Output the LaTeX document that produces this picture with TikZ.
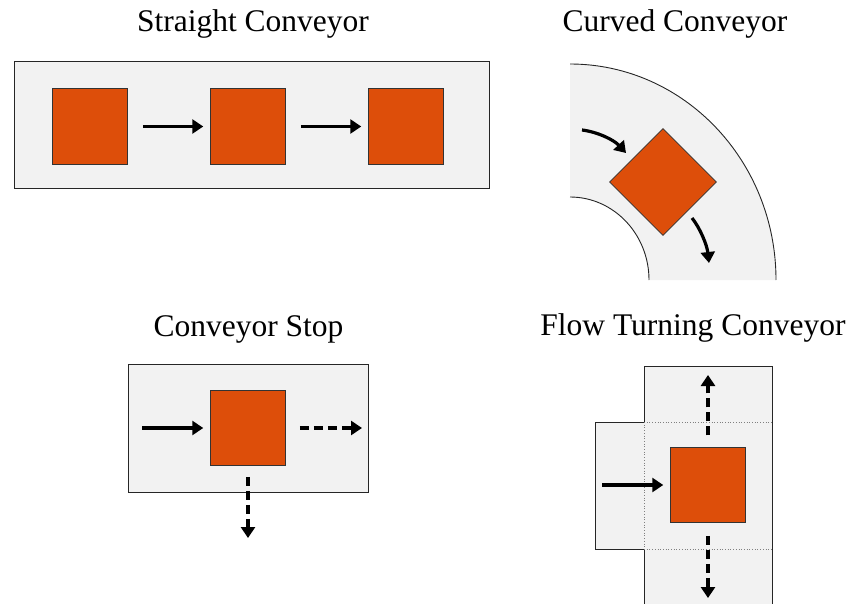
\documentclass[tikz,border=0pt]{standalone}
\usepackage{fontspec}
\setmainfont{Liberation Serif}
\usetikzlibrary{arrows.meta}
\definecolor{belt}{HTML}{F2F2F2}
\definecolor{item}{HTML}{DD4E0A}
\tikzset{
  beltbox/.style={draw=black!85, fill=belt, line width=0.9pt},
  itembox/.style={draw=black!80, fill=item, line width=0.8pt, minimum size=75.5pt, inner sep=0pt, outer sep=0pt},
  arr/.style={line width=3.2pt, -{Triangle[length=11pt,width=14pt]}},
  darr/.style={arr, dash pattern=on 9pt off 5pt},
  ttl/.style={font=\fontsize{31.5}{36}\selectfont, anchor=base},
  sep/.style={draw=black!50, line width=0.7pt, dotted}
}
\begin{document}
\begin{tikzpicture}[x=1pt,y=-1pt]
\useasboundingbox (0,0) rectangle (851,604);
% ---------- Straight conveyor
\node[ttl] (t1) at (253,32) {Straight Conveyor};
\path[beltbox] (14,61) rectangle (489,188);
\node[itembox] (s1) at (90,126.5) {};
\node[itembox] (s2) at (248,126.5) {};
\node[itembox] (s3) at (406,126.5) {};
\draw[arr] ([xshift=15pt]s1.east) -- ([xshift=-7pt]s2.west);
\draw[arr] ([xshift=15pt]s2.east) -- ([xshift=-7pt]s3.west);
% ---------- Curved conveyor
\node[ttl] (t2) at (675,32) {Curved Conveyor};
\fill[belt] (570,64) arc[start angle=270,end angle=360,x radius=206,y radius=216]
  -- (649,280) arc[start angle=360,end angle=270,x radius=79,y radius=83] -- cycle;
\draw[black!85, line width=0.9pt] (570,64) arc[start angle=270,end angle=360,x radius=206,y radius=216];
\draw[black!85, line width=0.9pt] (649,280) arc[start angle=360,end angle=270,x radius=79,y radius=83];
\node[itembox, rotate=45] (c1) at (663,182) {};
\coordinate (ca1) at (582,130);
\coordinate (ca2) at (626,153);
\coordinate (cb1) at (692,218);
\coordinate (cb2) at (709,263);
\draw[arr] (ca1) .. controls (598,132) and (614,140) .. (ca2);
\draw[arr] (cb1) .. controls (700,228) and (707,245) .. (cb2);
% ---------- Conveyor stop
\node[ttl] (t3) at (248.5,336) {Conveyor Stop};
\path[beltbox] (128,364) rectangle (368,492);
\node[itembox] (p1) at (248,428) {};
\coordinate (pin) at (142,428);
\coordinate (pout) at (362,428);
\coordinate (pdown) at (248,538);
\draw[arr] (pin) -- ([xshift=-7pt]p1.west);
\draw[darr] ([xshift=14pt]p1.east) -- (pout);
\draw[darr] ([yshift=-11pt]p1.south) -- (pdown);
% ---------- Flow turning conveyor
\node[ttl] (t4) at (693,335) {Flow Turning Conveyor};
\fill[belt] (644,366) rectangle (772,604);
\fill[belt] (595,422) rectangle (644,549);
\draw[black!85, line width=0.9pt] (644,604) -- (644,549);
\draw[black!85, line width=0.9pt] (644,422) -- (644,366) -- (772,366) -- (772,604);
\draw[black!85, line width=0.9pt] (644,422) -- (595,422) -- (595,549) -- (644,549);
\draw[sep] (644,422) -- (772,422);
\draw[sep] (644,549) -- (772,549);
\draw[sep] (644,422) -- (644,549);
\node[itembox] (f1) at (708,485) {};
\coordinate (fin) at (602,485);
\coordinate (fup) at (708,375);
\coordinate (fdown) at (708,598);
\draw[arr] (fin) -- ([xshift=-7pt]f1.west);
\draw[darr] ([yshift=12pt]f1.north) -- (fup);
\draw[darr] ([yshift=-13pt]f1.south) -- (fdown);
\end{tikzpicture}
\end{document}
